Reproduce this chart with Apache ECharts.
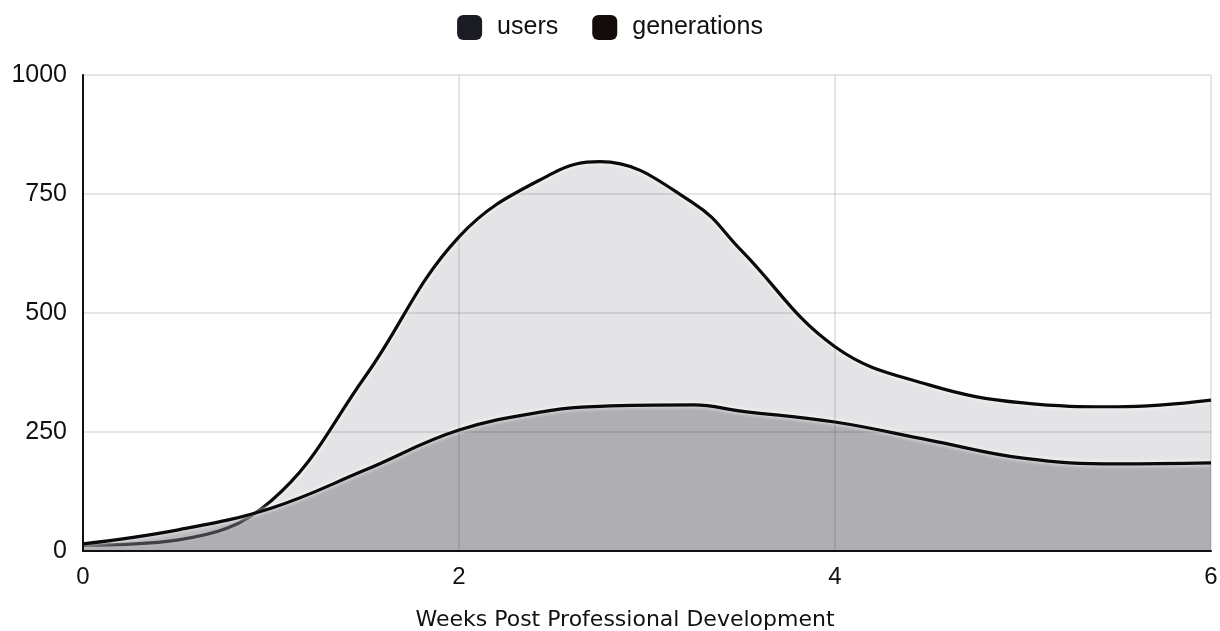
<!DOCTYPE html>
<html><head><meta charset="utf-8">
<script src="https://cdn.jsdelivr.net/npm/echarts@6/dist/echarts.min.js"></script>
<style>html,body{margin:0;padding:0;background:#fff}#c{width:1220px;height:631px}</style>
</head><body><div id="c"></div>
<script>
const weeks = [0, 0.5, 1, 1.5, 2, 2.5, 2.75, 3.25, 3.5, 4, 4.5, 5, 5.5, 6];
const users = [12, 23, 105, 366, 660, 794, 818, 730, 632, 429, 349, 311, 303, 317];
const generations = [15, 44, 90, 170, 254, 296, 304, 307, 294, 271, 233, 195, 183, 185];
const yTicks = [0, 250, 500, 750, 1000];
const xTicks = [0, 2, 4, 6];

const chart = echarts.init(document.getElementById('c'));
const toPairs = arr => weeks.map((w, i) => [w, arr[i]]);
const lineStyle = { color: '#0a0a0a', width: 3.2, shadowColor: '#ffffff', shadowBlur: 4 };
const gridLine = { color: 'rgba(60,60,60,0.17)', width: 1.5 };
chart.setOption({
  animation: false,
  backgroundColor: '#ffffff',
  legend: {
    top: 10, left: 'center',
    itemWidth: 25, itemHeight: 25, itemGap: 34,
    icon: 'roundRect',
    textStyle: { fontFamily: 'Liberation Sans, Arial', fontSize: 25, color: '#111', padding: [0, 0, 0, 10] },
    data: [
      { name: 'users', itemStyle: { color: '#1b1b24' } },
      { name: 'generations', itemStyle: { color: '#140c0a' } }
    ]
  },
  grid: { left: 83, right: 9, top: 75, bottom: 80, containLabel: false, outerBoundsMode: 'none' },
  xAxis: [{
    type: 'value', min: 0, max: 6, interval: 2,
    name: 'Weeks Post Professional Development', nameLocation: 'middle', nameGap: 58,
    nameTextStyle: { fontFamily: 'DejaVu Sans', fontSize: 22, color: '#111', padding: [0, 44, 0, 0] },
    axisLine: { show: true, lineStyle: { color: '#111', width: 2 } },
    axisTick: { show: false },
    axisLabel: { fontFamily: 'Liberation Sans, Arial', fontSize: 24, color: '#111', margin: 14,
      formatter: v => xTicks.includes(v) ? String(v) : '' },
    splitLine: { show: true, lineStyle: gridLine },
    z: 5
  }],
  yAxis: [{
    type: 'value', min: 0, max: 1000, interval: 250,
    axisLine: { show: true, lineStyle: { color: '#111', width: 2 } },
    axisTick: { show: false },
    axisLabel: { fontFamily: 'Liberation Sans, Arial', fontSize: 25, color: '#111', margin: 16,
      formatter: v => yTicks.includes(v) ? String(v) : '' },
    splitLine: { show: true, lineStyle: gridLine },
    z: 5
  }],
  series: [
    {
      name: 'users', type: 'line', smooth: 0.4, symbol: 'none',
      data: toPairs(users),
      lineStyle: lineStyle,
      itemStyle: { color: '#1b1b24' },
      areaStyle: { color: 'rgba(205,205,212,0.55)', opacity: 1 },
      z: 2
    },
    {
      name: 'generations', type: 'line', smooth: 0.4, symbol: 'none',
      data: toPairs(generations),
      lineStyle: lineStyle,
      itemStyle: { color: '#140c0a' },
      areaStyle: { color: 'rgba(120,120,128,0.5)', opacity: 1 },
      z: 3
    }
  ]
});
</script></body></html>
